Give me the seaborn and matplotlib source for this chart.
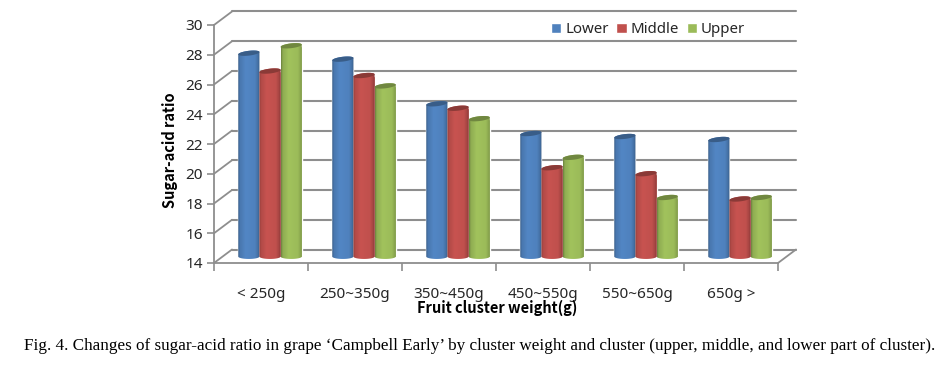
import numpy as np
import pandas as pd
import matplotlib
matplotlib.use("Agg")
import matplotlib.pyplot as plt
from matplotlib.colors import LinearSegmentedColormap, to_rgb
from matplotlib.lines import Line2D
from matplotlib.patches import PathPatch, Polygon
from matplotlib.path import Path
from matplotlib.transforms import IdentityTransform
import seaborn as sns

categories = ["< 250g", "250~350g", "350~450g", "450~550g", "550~650g", "650g >"]
lower = [27.7, 27.3, 24.3, 22.3, 22.1, 21.9]
middle = [26.5, 26.2, 24.0, 20.0, 19.6, 17.9]
upper = [28.2, 25.5, 23.3, 20.7, 18.0, 18.0]
series_names = ["Lower", "Middle", "Upper"]
colors = ["#4F81BD", "#C0504D", "#9BBB59"]
y_ticks = [14, 16, 18, 20, 22, 24, 26, 28, 30]
caption = ("Fig. 4. Changes of sugar-acid ratio in grape \u2018Campbell Early\u2019 by cluster weight "
           "and cluster (upper, middle, and lower part of cluster).")

W, H = 952, 368
GRID = "#8e8e8e"
TEXT = "#262626"
BOLD_FONT = ["Noto Sans CJK KR", "DejaVu Sans"]


def px_axes(fig, left, top, right, bottom):
    return fig.add_axes([left / W, (H - bottom) / H, (right - left) / W, (bottom - top) / H])


def shade(color, f):
    return tuple(min(1, c * f) for c in to_rgb(color))


def draw_cylinder(ax, bar, color, base):
    # round the bar off and paint it with a sideways gradient
    x0, w, top = bar.get_x(), bar.get_width(), bar.get_height() + bar.get_y()
    b = 2.4 / 14.875
    t = np.linspace(0, np.pi, 30)
    xs = x0 + w / 2 + np.cos(t) * w / 2
    tilt = 0.08 * (xs - (x0 + w / 2)) / (w / 2)
    top_edge = np.column_stack([xs, top + b * np.sin(t) + tilt])
    bottom_edge = np.column_stack([xs[::-1], base - b * np.sin(t) + 0.03])
    verts = np.vstack([top_edge, bottom_edge, top_edge[:1]])
    cmap = LinearSegmentedColormap.from_list("c", [
        (0, shade(color, 0.7)), (0.08, shade(color, 0.92)), (0.35, shade(color, 1.04)),
        (0.78, shade(color, 1.0)), (0.93, shade(color, 0.85)), (1, shade(color, 0.68))])
    im = ax.imshow(np.linspace(0, 1, 64)[None, :], cmap=cmap, aspect="auto", zorder=3,
                   extent=(x0, x0 + w, base - 0.3, top + 0.4))
    im.set_clip_path(PathPatch(Path(verts), transform=ax.transData))
    im.set_clip_box(ax.figure.bbox)
    t2 = np.linspace(0, 2 * np.pi, 60)
    ex = x0 + w / 2 + np.cos(t2) * w / 2
    ey = top + b * np.sin(t2) + 0.08 * np.cos(t2)
    ax.add_patch(Polygon(np.column_stack([ex, ey]), closed=True, fc=shade(color, 0.72),
                         ec="none", zorder=4, clip_on=False))


df = pd.DataFrame({
    "category": categories * 3,
    "value": lower + middle + upper,
    "part": [n for n in series_names for _ in categories],
})

sns.set_theme(style="white")
plt.rcParams["font.family"] = ["Noto Sans", "DejaVu Sans"]

fig = plt.figure(figsize=(W / 100, H / 100), dpi=100, facecolor="white")

# front plane holds the axis, ticks and labels
ax = px_axes(fig, 214, 25, 778, 263)
ax.set_xlim(-0.5, 5.5)
ax.set_ylim(14, 30)
ax.set_xticks(np.arange(7) - 0.5, labels=[])
ax.set_xticks(np.arange(6), labels=categories, minor=True)
ax.set_yticks(y_ticks)
ax.tick_params(axis="y", length=5, width=1.2, color=GRID, labelsize=11, labelcolor=TEXT, pad=3, left=True)
ax.tick_params(axis="x", which="major", length=6, width=1.2, color=GRID, bottom=True)
ax.tick_params(axis="x", which="minor", length=0, labelsize=11, labelcolor=TEXT, pad=17)
ax.patch.set_alpha(0)
sns.despine(ax=ax)
for s in ("left", "bottom"):
    ax.spines[s].set_color(GRID)
    ax.spines[s].set_linewidth(1.3)

# back wall gridlines
back = px_axes(fig, 232, 11, 796, 250)
back.set_xlim(0, 1)
back.set_ylim(14, 30)
back.set_zorder(-1)
for v in y_ticks:
    back.axhline(v, color=GRID, lw=1.5, clip_on=False)
back.axis("off")

# side wall and floor diagonals
fig.canvas.draw()
for v in y_ticks:
    x0, y0 = ax.transData.transform((-0.5, v))
    fig.add_artist(Line2D([x0, x0 + 18], [y0, y0 + 13.5], color=GRID, lw=1.3,
                          transform=IdentityTransform(), zorder=0))
x0, y0 = ax.transData.transform((5.5, 14))
fig.add_artist(Line2D([x0, x0 + 18], [y0, y0 + 13.5], color=GRID, lw=1.3,
                      transform=IdentityTransform(), zorder=0))

# bars sit midway between the front plane and the back wall
bars = px_axes(fig, 223, 19, 787, 257)
sns.barplot(data=df, x="category", y="value", hue="part", order=categories,
            hue_order=series_names, palette=colors, width=0.675, gap=0, saturation=1,
            ax=bars, legend=False)
bars.set_xlim(-0.5, 5.5)
bars.set_ylim(14, 30)
for container, color in zip(bars.containers, colors):
    for bar in container:
        draw_cylinder(bars, bar, color, 14)
bars.set_xlim(-0.5, 5.5)
bars.set_ylim(14, 30)
bars.axis("off")

handles = [plt.Rectangle((0, 0), 1, 1, fc=c) for c in colors]
fig.legend(handles, series_names, loc="center left", bbox_to_anchor=(551 / W, 1 - 29.5 / H),
           ncol=3, frameon=False, fontsize=10.8, labelcolor=TEXT, handlelength=0.68, handleheight=0.68,
           handletextpad=0.28, columnspacing=0.5, borderpad=0, borderaxespad=0)

fig.text(497 / W, 1 - 308 / H, "Fruit cluster weight(g)", ha="center", va="center",
         fontsize=10.5, fontweight="bold", family=BOLD_FONT, color="black")
fig.text(170 / W, 1 - 150 / H, "Sugar-acid ratio", ha="center", va="center", rotation=90,
         fontsize=10.5, fontweight="bold", family=BOLD_FONT, color="black")
fig.text(24 / W, 1 - 346 / H, caption, ha="left", va="center", fontsize=12.35,
         family=["Liberation Serif", "DejaVu Serif"], color="black")

fig.savefig("out.png", dpi=100, facecolor="white")
